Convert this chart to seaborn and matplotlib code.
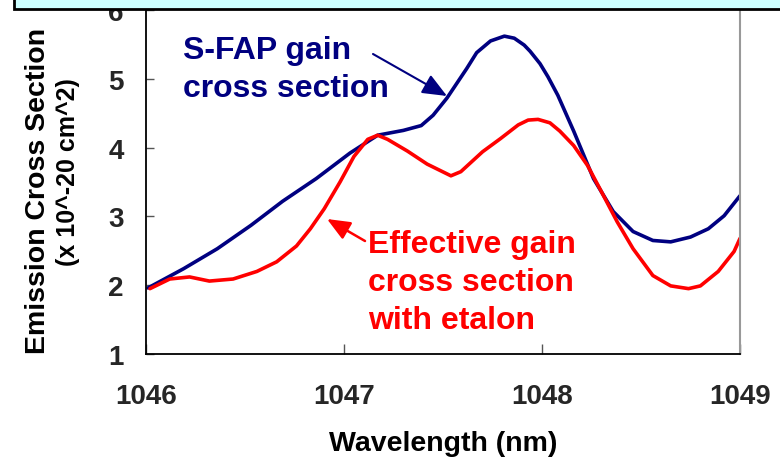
import matplotlib
matplotlib.use("Agg")
import matplotlib.pyplot as plt
from matplotlib.patches import Rectangle
import seaborn as sns
import pandas as pd

# S-FAP gain cross section (x 10^-20 cm^2) vs wavelength (nm)
sfap_wl = [1046.01, 1046.19, 1046.36, 1046.53, 1046.69, 1046.86, 1047.03, 1047.17,
           1047.30, 1047.39, 1047.45, 1047.52, 1047.62, 1047.67, 1047.74, 1047.81,
           1047.86, 1047.91, 1047.94, 1047.99, 1048.03, 1048.08, 1048.16, 1048.26,
           1048.36, 1048.46, 1048.56, 1048.65, 1048.75, 1048.84, 1048.92, 1049.00]
sfap_xs = [1.96, 2.24, 2.53, 2.87, 3.22, 3.55, 3.92, 4.18,
           4.25, 4.32, 4.47, 4.72, 5.15, 5.38, 5.55, 5.62,
           5.59, 5.49, 5.40, 5.22, 5.03, 4.76, 4.24, 3.55,
           3.07, 2.78, 2.65, 2.63, 2.70, 2.82, 3.01, 3.30]

# Effective gain cross section with etalon
eff_wl = [1046.02, 1046.12, 1046.22, 1046.32, 1046.44, 1046.56, 1046.66, 1046.76,
          1046.83, 1046.90, 1046.98, 1047.05, 1047.12, 1047.17, 1047.22, 1047.32,
          1047.42, 1047.54, 1047.59, 1047.70, 1047.79, 1047.88, 1047.93, 1047.98,
          1048.04, 1048.09, 1048.16, 1048.23, 1048.30, 1048.38, 1048.46, 1048.56,
          1048.65, 1048.74, 1048.80, 1048.89, 1048.97, 1049.00]
eff_xs = [1.95, 2.09, 2.12, 2.06, 2.09, 2.20, 2.34, 2.57,
          2.82, 3.11, 3.50, 3.87, 4.12, 4.18, 4.12, 3.95,
          3.76, 3.59, 3.65, 3.94, 4.13, 4.33, 4.40, 4.41,
          4.36, 4.24, 4.03, 3.74, 3.36, 2.92, 2.53, 2.14,
          1.99, 1.95, 1.99, 2.20, 2.49, 2.68]

x_ticks = [1046, 1047, 1048, 1049]
y_ticks = [1, 2, 3, 4, 5, 6]

NAVY = "#000080"
RED = "#FF0000"

sns.set_theme(style="white")
plt.rcParams["font.family"] = ["Liberation Sans", "DejaVu Sans"]
plt.rcParams["font.weight"] = "bold"
plt.rcParams["lines.solid_joinstyle"] = "round"
plt.rcParams["lines.solid_capstyle"] = "round"

W, H = 780, 460
fig = plt.figure(figsize=(W / 100, H / 100), dpi=100)
fig.patch.set_facecolor("white")


def fx(x):
    return x / W


def fy(y):
    return 1 - y / H


ax = fig.add_axes([fx(146), fy(355), (740 - 146) / W, (355 - 11) / H])
ax.set_facecolor("white")

sfap = pd.DataFrame({"wl": sfap_wl, "xs": sfap_xs})
eff = pd.DataFrame({"wl": eff_wl, "xs": eff_xs})
sns.lineplot(data=sfap, x="wl", y="xs", color=NAVY, lw=2.6, ax=ax, sort=False)
sns.lineplot(data=eff, x="wl", y="xs", color=RED, lw=2.6, ax=ax, sort=False)

ax.set_xlim(1046, 1049)
ax.set_ylim(1, 6)
ax.set_xticks(x_ticks)
ax.set_yticks(y_ticks)
ax.set_xticklabels([str(t) for t in x_ticks], fontsize=20, fontweight="bold")
ax.set_yticklabels([str(t) for t in y_ticks], fontsize=20, fontweight="bold")
ax.tick_params(axis="x", direction="in", length=7, width=1, color="#555555", pad=21)
ax.tick_params(axis="y", direction="in", length=6, width=1, color="#555555", pad=16)
ax.tick_params(axis="x", bottom=True)
ax.tick_params(axis="y", left=True)
ax.set_xlabel("")
ax.set_ylabel("")

for side in ["left", "bottom"]:
    ax.spines[side].set_color("black")
    ax.spines[side].set_linewidth(1.3)
ax.spines["right"].set_color("#999999")
ax.spines["right"].set_linewidth(1.5)
ax.spines["top"].set_visible(False)

# Axis titles
fig.text(fx(443), fy(451), "Wavelength (nm)", ha="center", va="baseline",
         fontsize=20.5, fontweight="bold", color="black")
fig.text(fx(45), fy(191), "Emission Cross Section", rotation=90,
         rotation_mode="anchor", ha="center", va="baseline",
         fontsize=20.5, fontweight="bold", color="black")
fig.text(fx(75), fy(172), "(x 10^-20 cm^2)", rotation=90,
         rotation_mode="anchor", ha="center", va="baseline",
         fontsize=18, fontweight="bold", color="black")

# Curve annotations
for i, line in enumerate(["S-FAP gain", "cross section"]):
    fig.text(fx(183), fy(59 + 38 * i), line, ha="left", va="baseline",
             fontsize=23, fontweight="bold", color=NAVY)
for i, line in enumerate(["Effective gain", "cross section", "with etalon"]):
    fig.text(fx(368), fy(253 + 38 * i), line, ha="left", va="baseline",
             fontsize=23, fontweight="bold", color=RED)

ax.annotate("", xy=(fx(447), fy(97)), xycoords="figure fraction",
            xytext=(fx(373), fy(55)), textcoords="figure fraction",
            arrowprops=dict(arrowstyle="-|>,head_length=1.0,head_width=0.42",
                            mutation_scale=15, color=NAVY, lw=1.5,
                            shrinkA=0, shrinkB=0))
ax.annotate("", xy=(fx(327), fy(220)), xycoords="figure fraction",
            xytext=(fx(365), fy(242)), textcoords="figure fraction",
            arrowprops=dict(arrowstyle="-|>,head_length=1.0,head_width=0.42",
                            mutation_scale=14, color=RED, lw=1.8,
                            shrinkA=0, shrinkB=0))

# Header box across the top edge
fig.patches.append(Rectangle((fx(14), fy(10)), 2.0, 0.2, transform=fig.transFigure,
                             facecolor="#CCFFFF", edgecolor="black", lw=2,
                             zorder=10))

fig.savefig("out.png", dpi=100)
